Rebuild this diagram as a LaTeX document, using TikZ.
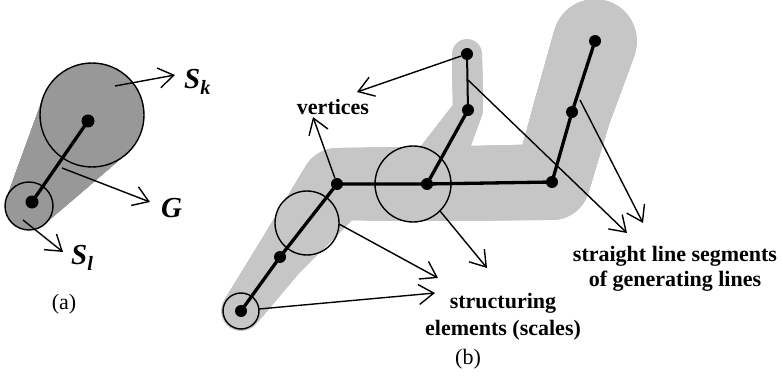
\documentclass[tikz,border=0pt]{standalone}
\usepackage{fontspec}
\setmainfont{Liberation Serif}
\usetikzlibrary{arrows.meta}
\definecolor{agray}{RGB}{152,152,152}
\definecolor{bgray}{RGB}{198,198,198}
\begin{document}
\begin{tikzpicture}[x=1pt,y=-1pt,
  conn/.style={line width=1.4pt,-{Straight Barb[length=15pt,width=20pt]}},
  gen/.style={line width=3.3pt},
  thinseg/.style={line width=2pt},
  vdot/.style={circle,fill=black,inner sep=0pt,minimum size=13pt},
  scalecirc/.style={line width=1.4pt},
  lbl/.style={font=\fontsize{22}{25}\selectfont\bfseries,align=center},
  symlbl/.style={font=\fontsize{29}{32}\selectfont\bfseries\itshape,inner sep=0pt},
  caption/.style={font=\fontsize{22}{25}\selectfont}
]
\useasboundingbox (0,0) rectangle (782,377);

% ---------------- (a) ----------------
\foreach \i in {0,...,60}{
  \pgfmathsetmacro\t{\i/60}
  \fill[agray] ({92+(29-92)*\t},{115+(206-115)*\t}) circle[radius={(52+(24-52)*\t)*1pt}];
}
\coordinate (c1) at (92,115);
\coordinate (c2) at (29,206);
\draw[scalecirc] (c1) circle[radius=52pt];
\draw[scalecirc] (c2) circle[radius=24pt];
\node[vdot] (a1) at (88,121) {};
\node[vdot] (a2) at (32,202) {};
\draw[gen] (a1.center) -- (a2.center);

\coordinate (skS) at (115,86);
\coordinate (skT) at (175,75);
\coordinate (gS) at (62,168);
\coordinate (gT) at (150,202);
\coordinate (slS) at (23,220);
\coordinate (slT) at (63,252);
\draw[conn] (skS) -- (skT);
\draw[conn] (gS) -- (gT);
\draw[conn] (slS) -- (slT);
\node[symlbl,anchor=west] (Sk) at (184,82) {S\textsubscript{k}};
\node[symlbl,anchor=west] (G) at (161,208) {G};
\node[symlbl,anchor=west] (Sl) at (71,258) {S\textsubscript{l}};
\node[caption] (capa) at (64,304) {(a)};

% ---------------- (b) ----------------
\foreach \ax/\ay/\ar/\bx/\by/\br in {
  241/311/20/280/257/25,
  280/257/25/337/184/36,
  337/184/36/427/184/37,
  427/184/37/552/182/38,
  552/182/38/572/112/39,
  572/112/39/595/41/42,
  427/184/28/468/110/15,
  468/110/15/467/54/15}{
  \foreach \i in {0,...,60}{
    \pgfmathsetmacro\t{\i/60}
    \fill[bgray] ({\ax+(\bx-\ax)*\t},{\ay+(\by-\ay)*\t}) circle[radius={(\ar+(\br-\ar)*\t)*1pt}];
  }
}

\node[vdot,minimum size=12pt] (v1) at (241,311) {};
\node[vdot,minimum size=12pt] (v2) at (280,257) {};
\node[vdot,minimum size=12pt] (v3) at (337,184) {};
\node[vdot,minimum size=12pt] (v4) at (427,184) {};
\node[vdot,minimum size=12pt] (v5) at (468,110) {};
\node[vdot,minimum size=12pt] (v6) at (467,54) {};
\node[vdot,minimum size=12pt] (v7) at (552,182) {};
\node[vdot,minimum size=12pt] (v8) at (572,112) {};
\node[vdot,minimum size=12pt] (v9) at (595,41) {};

\draw[gen] (v1.center) -- (v2.center) -- (v3.center) -- (v4.center) -- (v7.center) -- (v8.center) -- (v9.center);
\draw[gen] (v4.center) -- (v5.center);
\draw[thinseg] (v5.center) -- (v6.center);

\coordinate (s1c) at (241,311);
\coordinate (s2c) at (307,223);
\coordinate (s3c) at (413,184);
\draw[scalecirc] (s1c) circle[radius=18pt];
\draw[scalecirc] (s2c) circle[radius=32pt];
\draw[scalecirc] (s3c) circle[radius=38pt];

% labels
\node[lbl] (vert) at (333,107) {vertices};
\node[lbl] (segs) at (675,269) {straight line segments\\of generating lines};
\node[lbl,font=\fontsize{22}{27}\selectfont\bfseries] (struct) at (503,317) {structuring\\elements (scales)};
\node[caption] (capb) at (468,359) {(b)};

% arrows
\coordinate (vt1) at (357,92);
\coordinate (vt2) at (313,117);
\draw[conn] (v6) -- (vt1);
\draw[conn] (v3) -- (vt2);

\coordinate (ls1) at (468,80);
\coordinate (lt1) at (627,233);
\coordinate (ls2) at (580,100);
\coordinate (lt2) at (643,223);
\draw[conn] (ls1) -- (lt1);
\draw[conn] (ls2) -- (lt2);

\coordinate (es1) at (259,309);
\coordinate (et1) at (435,293);
\coordinate (es2) at (339,224);
\coordinate (et2) at (438,278);
\coordinate (es3) at (440,211);
\coordinate (et3) at (487,268);
\draw[conn] (es1) -- (et1);
\draw[conn] (es2) -- (et2);
\draw[conn] (es3) -- (et3);
\end{tikzpicture}
\end{document}
